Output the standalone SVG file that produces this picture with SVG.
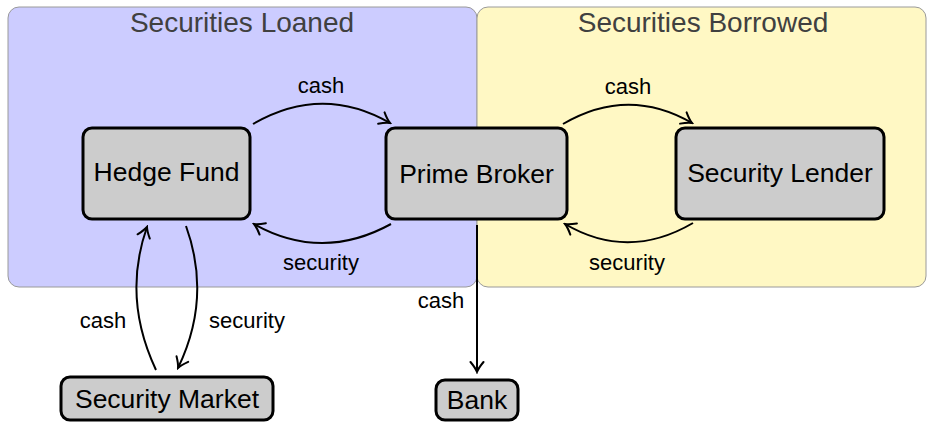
<svg xmlns="http://www.w3.org/2000/svg" width="927" height="422" viewBox="0 0 927 422">
<style>
.region{stroke:#9a9a9a;stroke-width:1}
.title{font-family:"Liberation Sans",Arial,sans-serif;font-size:28px;fill:#404040;text-anchor:middle}
.node rect{fill:#cccccc;stroke:#000;stroke-width:3}
.node text{font-family:"Liberation Sans",Arial,sans-serif;font-size:26.5px;fill:#000;text-anchor:middle}
.edge{fill:none;stroke:#000;stroke-width:2;marker-end:url(#arr)}
.lbl{font-family:"Liberation Sans",Arial,sans-serif;font-size:22px;fill:#000;text-anchor:middle}
</style>
<defs>
<marker id="arr" markerUnits="userSpaceOnUse" viewBox="-12 -8 14 16" markerWidth="14" markerHeight="16" refX="0" refY="0" orient="auto">
<path d="M-10,-6.5 Q-4,-1.5 0,0 Q-4,1.5 -10,6.5" fill="none" stroke="#000" stroke-width="2" stroke-linecap="round"/>
</marker>
</defs>
<g id="regions">
<rect class="region" x="8" y="7" width="469" height="280" rx="11" fill="#ccccff"/>
<rect class="region" x="477" y="7" width="449" height="280" rx="11" fill="#fff8c4"/>
<text class="title" x="242" y="32">Securities Loaned</text>
<text class="title" x="703" y="32">Securities Borrowed</text>
</g>
<g id="connectors">
<path class="edge" d="M253,124 Q322,84 390,123"/>
<path class="edge" d="M391,224 Q322,262 254,224"/>
<path class="edge" d="M563,124 Q628,86 692,123"/>
<path class="edge" d="M693,223 Q628,261 565,224"/>
<path class="edge" d="M156,370 Q122,298 147,227"/>
<path class="edge" d="M186,226 Q212,298 178,368"/>
<path class="edge" d="M477,225 L477,372"/>
<text class="lbl" x="321" y="93">cash</text>
<text class="lbl" x="321" y="270">security</text>
<text class="lbl" x="628" y="94">cash</text>
<text class="lbl" x="627" y="270">security</text>
<text class="lbl" x="103" y="328">cash</text>
<text class="lbl" x="247" y="328">security</text>
<text class="lbl" x="441" y="308">cash</text>
</g>
<g id="hedge-fund" class="node">
<rect x="83" y="128" width="167" height="91" rx="9"/>
<text x="166.5" y="181">Hedge Fund</text>
</g>
<g id="prime-broker" class="node">
<rect x="386" y="128" width="181" height="91" rx="9"/>
<text x="476.5" y="183">Prime Broker</text>
</g>
<g id="security-lender" class="node">
<rect x="676" y="128" width="208" height="91" rx="9"/>
<text x="780" y="182">Security Lender</text>
</g>
<g id="security-market" class="node">
<rect x="61" y="377" width="212" height="43" rx="9"/>
<text x="167" y="408">Security Market</text>
</g>
<g id="bank" class="node">
<rect x="436" y="380" width="82" height="40" rx="9"/>
<text x="477" y="409">Bank</text>
</g>
</svg>
